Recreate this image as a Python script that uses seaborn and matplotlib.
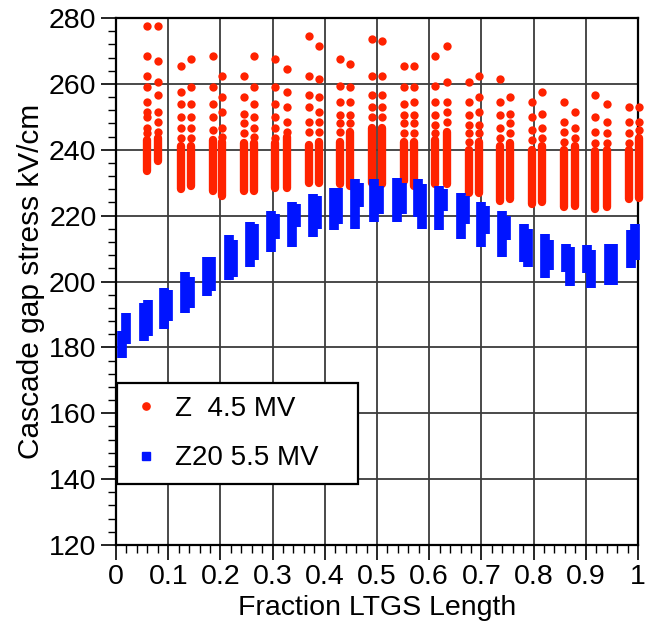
import numpy as np
import pandas as pd
import matplotlib
matplotlib.use("Agg")
import matplotlib.pyplot as plt
import seaborn as sns
from matplotlib.lines import Line2D
from matplotlib.ticker import FixedLocator, MultipleLocator

# ---------------- data ----------------
x_ticks = [0, 0.1, 0.2, 0.3, 0.4, 0.5, 0.6, 0.7, 0.8, 0.9, 1.0]
x_tick_labels = ["0", "0.1", "0.2", "0.3", "0.4", "0.5", "0.6", "0.7", "0.8", "0.9", "1"]
y_ticks = [120, 140, 160, 180, 200, 220, 240, 260, 280]

series_names = ["Z  4.5 MV", "Z20 5.5 MV"]

# Z 4.5 MV : 16 groups, each with a left and right column of points
red_x_left = [0.060, 0.125, 0.185, 0.245, 0.305, 0.369, 0.430, 0.490,
              0.552, 0.612, 0.676, 0.736, 0.797, 0.858, 0.917, 0.982]
red_x_right = [0.081, 0.143, 0.203, 0.264, 0.327, 0.388, 0.449, 0.509,
               0.571, 0.634, 0.695, 0.754, 0.816, 0.880, 0.941, 1.001]
# isolated upper points of each column
red_upper_left = [
    [277.5, 268.5, 262.5, 259, 254.5, 251.5, 250, 246.5, 245],
    [265.5, 257.5, 254, 250, 246.5, 243.5],
    [268.5, 259, 254, 250, 246],
    [262.5, 256, 251, 248, 245],
    [267.5, 259, 254, 250, 246.5, 243.5],
    [274.5, 262.5, 256.5, 253, 248.5, 245.5],
    [267.5, 259.5, 254.5, 250.5, 248, 245.5],
    [273.5, 262.5, 256.5, 253, 250],
    [265.5, 259, 254, 250.5, 248, 245],
    [268.5, 259.5, 254.5, 250.5, 247.5, 245],
    [260.5, 254.5, 250.5, 247.5, 245, 242.5],
    [261.5, 254.5, 250.5, 246.5, 243.5],
    [254.5, 250, 246, 243],
    [254.5, 248.5, 245.5, 242.5],
    [256.5, 250, 245.5, 242],
    [253, 248.5, 245, 242],
]
red_upper_right = [
    [277.5, 267, 260.5, 256.5, 251.5, 248.5, 245.5],
    [267.5, 259, 254, 250, 246.5, 243.5],
    [262.5, 256, 251.5, 246.5, 244],
    [268.5, 259, 254, 250, 246.5, 244],
    [264.5, 257.5, 253, 248.5, 245.5],
    [271.5, 261.5, 256, 251.5, 248.5, 245.5],
    [266, 259, 254.5, 250.5, 248],
    [273, 262.5, 256.5, 253, 250],
    [265.5, 259, 254.5, 250.5, 248, 245],
    [271.5, 260.5, 254.5, 251.5, 248.5],
    [262.5, 256, 251.5, 247.5, 245],
    [256, 251, 248, 245],
    [257.5, 251, 246.5, 243.5],
    [251.5, 246.5, 243.5],
    [254, 248.5, 245, 242],
    [253, 248.5, 246],
]
# dense (overlapping) lower part of each column: (low, high)
red_dense_left_lo = [233.5, 228, 227.5, 227.5, 228.5, 230, 229.5, 230,
                     230.5, 229.5, 227, 224.5, 223.5, 222.5, 222, 225]
red_dense_left_hi = [243, 241, 243, 242, 242, 241.5, 242.5, 246.5,
                     242.5, 243, 240, 241, 240, 240, 239.5, 240]
red_dense_right_lo = [236.5, 229, 226, 227.5, 228.5, 230, 229, 229.5,
                      229, 229.5, 227, 225, 224, 223, 222.5, 225.5]
red_dense_right_hi = [243.5, 241, 242.5, 242, 244, 242.5, 245.5, 246.5,
                      242.5, 245.5, 242.5, 242, 241, 241, 240, 243.5]

# Z20 5.5 MV : 25 columns of stacked squares (two sub-columns each)
blue_x = [0.016, 0.057, 0.096, 0.137, 0.178, 0.220, 0.260, 0.300, 0.341,
          0.382, 0.421, 0.462, 0.499, 0.543, 0.583, 0.623, 0.664, 0.703,
          0.744, 0.785, 0.826, 0.866, 0.906, 0.948, 0.990]
blue_left_lo = [176.8, 182, 185.5, 190.5, 195.5, 200.5, 204.5, 209, 210.5,
                213.5, 215.5, 216, 218, 218, 219.5, 215.5, 213, 210.5,
                207.5, 206, 201, 203, 202.5, 199, 204]
blue_left_hi = [185, 193.5, 198, 203, 207.5, 214, 218, 221.5, 224,
                226.5, 228.5, 231, 231, 231.5, 231, 229, 227, 224,
                221.5, 217.5, 214.5, 211.5, 211, 211.5, 215.5]
blue_right_lo = [181, 183.5, 188, 192, 197, 201.5, 206.5, 213, 216.5,
                 216, 217.5, 222.5, 220.5, 220.5, 216, 221.5, 217.5, 214.5,
                 212.5, 204.5, 203.5, 198.5, 198, 199, 206.5]
blue_right_hi = [190.5, 194.5, 197.5, 201.5, 207.5, 212.5, 217.5, 220.5, 223.5,
                 226, 228.5, 230, 229, 230, 229.5, 228, 226, 223,
                 220, 216, 212.5, 210.5, 209.5, 211.5, 217.5]

RED = "#ff2200"
BLUE = "#0014ff"
GRID = "#3c3c3c"

# ---------------- style ----------------
sns.set_style("white")
plt.rcParams["font.family"] = ["Liberation Sans", "DejaVu Sans"]
plt.rcParams["text.color"] = "black"
plt.rcParams["axes.labelcolor"] = "black"
plt.rcParams["xtick.color"] = "black"
plt.rcParams["ytick.color"] = "black"

fig = plt.figure(figsize=(6.48, 6.32), dpi=100)
ax = fig.add_axes([116 / 648, 1 - 545 / 632, 522 / 648, 527 / 632])

# ---------------- red series ----------------
rows = []
for xs, groups in ((red_x_left, red_upper_left), (red_x_right, red_upper_right)):
    for x, vals in zip(xs, groups):
        for v in vals:
            rows.append((x, v))
df_red = pd.DataFrame(rows, columns=["x", "y"])
sns.scatterplot(data=df_red, x="x", y="y", ax=ax, color=RED, s=36,
                linewidth=0, zorder=3, clip_on=False, legend=False)

for xs, lo, hi in ((red_x_left, red_dense_left_lo, red_dense_left_hi),
                   (red_x_right, red_dense_right_lo, red_dense_right_hi)):
    lc = ax.vlines(xs, lo, hi, colors=RED, linewidth=6.0, zorder=3)
    lc.set_capstyle("round")
    lc.set_clip_on(False)

# ---------------- blue series ----------------
bx = np.array(blue_x)
for xs, lo, hi in ((bx - 0.004, blue_left_lo, blue_left_hi),
                   (bx + 0.004, blue_right_lo, blue_right_hi)):
    lc = ax.vlines(xs, lo, hi, colors=BLUE, linewidth=7.0, zorder=4)
    lc.set_capstyle("butt")
    lc.set_clip_on(False)

# ---------------- axes ----------------
ax.set_xlim(0, 1)
ax.set_ylim(120, 280)
ax.xaxis.set_major_locator(FixedLocator(x_ticks))
ax.set_xticklabels(x_tick_labels)
ax.yaxis.set_major_locator(FixedLocator(y_ticks))
ax.xaxis.set_minor_locator(MultipleLocator(0.02))
ax.yaxis.set_minor_locator(MultipleLocator(4))
ax.tick_params(axis="both", which="major", direction="out", length=11, width=1.2,
               labelsize=20.5, color="black", labelcolor="black", pad=3,
               bottom=True, left=True)
ax.tick_params(axis="both", which="minor", direction="out", length=5.5, width=1.0,
               color="black", bottom=True, left=True)
ax.grid(True, which="major", color=GRID, linewidth=1.3)
ax.set_axisbelow(True)
for sp in ax.spines.values():
    sp.set_visible(True)
    sp.set_color("black")
    sp.set_linewidth(1.6)

ax.set_xlabel("Fraction LTGS Length", fontsize=20.5, labelpad=3, color="black")
ax.set_ylabel("Cascade gap stress kV/cm", fontsize=21.5, labelpad=3, color="black")

handles = [Line2D([], [], marker="o", linestyle="", color=RED, markersize=5.2),
           Line2D([], [], marker="s", linestyle="", color=BLUE, markersize=5.2)]
leg = ax.legend(handles, series_names, loc="upper left",
                bbox_to_anchor=(0.002, 0.0, 241 / 522, 0.307), mode="expand",
                borderaxespad=0, fontsize=20, frameon=True, fancybox=False,
                edgecolor="black", framealpha=1, borderpad=0.45,
                labelspacing=0.85, handlelength=1.2, handletextpad=0.45)
leg.get_frame().set_linewidth(1.6)
for t in leg.get_texts():
    t.set_color("black")
leg.set_zorder(6)

fig.savefig("out.png", dpi=100)
